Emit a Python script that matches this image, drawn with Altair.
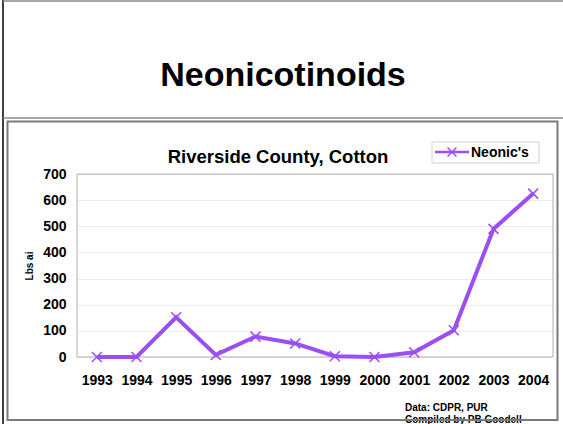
import altair as alt
import pandas as pd

# Neonicotinoid use on cotton in Riverside County (lbs active ingredient)
years = ["1993", "1994", "1995", "1996", "1997", "1998",
         "1999", "2000", "2001", "2002", "2003", "2004"]
lbs_ai = [0, 0, 152, 8, 78, 52, 3, 0, 18, 102, 490, 625]
y_ticks = [0, 100, 200, 300, 400, 500, 600, 700]

df = pd.DataFrame({"year": years, "lbs": lbs_ai})

PURPLE = "#9b4ff2"
FONT = "Liberation Sans"
X_SHAPE = "M-1,-1L1,1M-1,1L1,-1"
W, H = 476, 183          # plot area
LEFT, TOP = 77, 174      # plot origin within the page

x_enc = alt.X("year:N", sort=years, title=None,
              scale=alt.Scale(paddingInner=0, paddingOuter=0),
              axis=alt.Axis(labelAngle=0, labelFontSize=14, labelFontWeight="bold",
                            labelFont=FONT, labelColor="#000", labelPadding=16,
                            ticks=False, domain=False, grid=False))
y_enc = alt.Y("lbs:Q", title=None,
              scale=alt.Scale(domain=[0, 700], nice=False),
              axis=alt.Axis(values=y_ticks, labelFontSize=14, labelFontWeight="bold",
                            labelFont=FONT, labelColor="#000", labelPadding=11,
                            ticks=False, domain=False, gridColor="#ececec",
                            gridWidth=1))

base = alt.Chart(df)

line = base.mark_line(color=PURPLE, strokeWidth=4).encode(x=x_enc, y=y_enc)
pts = base.mark_point(shape=X_SHAPE, filled=False, color=PURPLE,
                      strokeWidth=1.5, size=100, opacity=1).encode(x=x_enc, y=y_enc)

one = alt.Chart(pd.DataFrame({"k": [0]}))

def rule(x1, y1, x2, y2, color, width):
    return one.mark_rule(color=color, strokeWidth=width).encode(
        x=alt.value(x1 - LEFT), x2=alt.value(x2 - LEFT),
        y=alt.value(y1 - TOP), y2=alt.value(y2 - TOP))

def box(x1, y1, x2, y2, stroke, width, fill=None):
    kw = dict(stroke=stroke, strokeWidth=width)
    if fill:
        kw["fill"] = fill
    else:
        kw["fillOpacity"] = 0
    return one.mark_rect(**kw).encode(
        x=alt.value(x1 - LEFT), x2=alt.value(x2 - LEFT),
        y=alt.value(y1 - TOP), y2=alt.value(y2 - TOP))

def label(txt, x, y, size, align="center", angle=0, baseline="middle"):
    kw = dict(text=txt, font=FONT, fontSize=size, fontWeight="bold",
              color="#000", align=align, baseline=baseline)
    if angle:
        kw["angle"] = angle
    return one.mark_text(**kw).encode(x=alt.value(x - LEFT), y=alt.value(y - TOP))

# slide frame and chart frame
slide = rule(3, 0, 3, 424, "#000", 1.5) + rule(3, 1, 563, 1, "#888", 1.5) + \
    rule(3, 118, 563, 118, "#888", 1.5)
frame = box(7.5, 121.5, 557.5, 420, "#7a7a7a", 2)
plot_border = box(LEFT, TOP, LEFT + W, TOP + H, "#b0b0b0", 1)

titles = label("Neonicotinoids", 283, 76, 34) + \
    label("Riverside County, Cotton", 278, 157, 18.5) + \
    label("Lbs ai", 30, 266, 10, angle=270)

footer = label("Data: CDPR, PUR", 405, 408, 10, align="left") + \
    label("Compiled by PB Goodell", 405, 420, 10, align="left")

# legend
legend = box(432, 142, 539, 163, "#d0d0d0", 1, fill="#ffffff") + \
    one.mark_rule(color=PURPLE, strokeWidth=2.5).encode(
        x=alt.value(435 - LEFT), x2=alt.value(469 - LEFT),
        y=alt.value(152 - TOP)) + \
    one.mark_point(shape=X_SHAPE, filled=False, color=PURPLE,
                   strokeWidth=1.5, size=80, opacity=1).encode(
        x=alt.value(452 - LEFT), y=alt.value(152 - TOP)) + \
    label("Neonic's", 471, 153, 14, align="left")

chart = alt.layer(
    slide, plot_border, line, pts, titles, footer, frame, legend
).properties(
    width=W, height=H,
    autosize=alt.AutoSizeParams(type="none"),
    padding={"left": LEFT, "top": TOP, "right": 563 - LEFT - W, "bottom": 424 - TOP - H},
    background="#ffffff",
).configure_view(stroke=None)

chart.save("out.html", embed_options={"renderer": "svg", "actions": False})
